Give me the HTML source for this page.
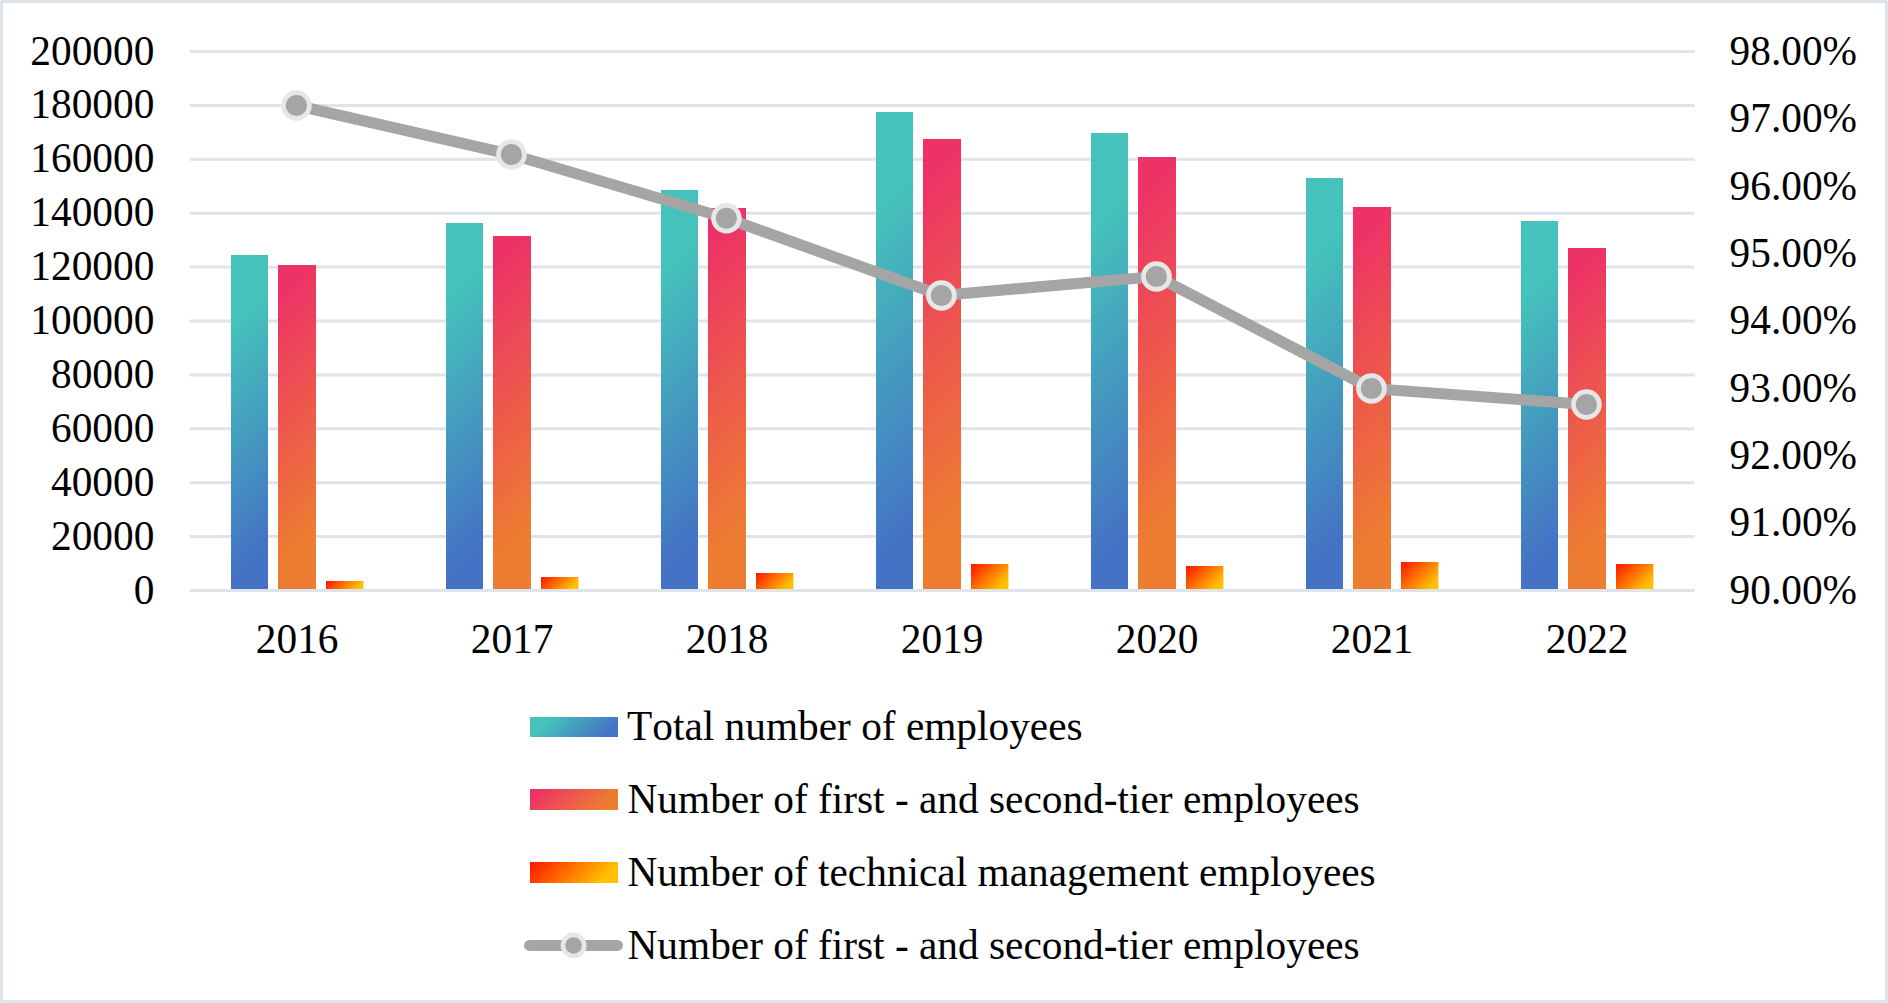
<!DOCTYPE html>
<html lang="en"><head><meta charset="utf-8"><title>Employees chart</title>
<style>html,body{margin:0;padding:0;background:#fff}svg{display:block}text{font-family:"Liberation Serif","Times New Roman",serif;font-size:41.33px;fill:#000;font-kerning:none}</style>
</head><body>
<svg width="1888" height="1003" viewBox="0 0 1888 1003">
<defs>
<linearGradient id="g1"><stop offset="0" stop-color="#45c2bb"/><stop offset="0.2" stop-color="#45c2bb"/><stop offset="0.88" stop-color="#4472c4"/><stop offset="1" stop-color="#4472c4"/></linearGradient>
<linearGradient id="g2"><stop offset="0" stop-color="#ed3267"/><stop offset="0.08" stop-color="#ed3267"/><stop offset="0.84" stop-color="#ed7d31"/><stop offset="1" stop-color="#ed7d31"/></linearGradient>
<linearGradient id="g3"><stop offset="0" stop-color="#ff1400"/><stop offset="0.82" stop-color="#ffc000"/><stop offset="1" stop-color="#ffc000"/></linearGradient>
<linearGradient id="g3_24" gradientUnits="userSpaceOnUse" x1="530" y1="862" x2="584.5" y2="916.5"><stop offset="0" stop-color="#ff1400"/><stop offset="0.82" stop-color="#ffc000"/><stop offset="1" stop-color="#ffc000"/></linearGradient>
<linearGradient id="g2_23" gradientUnits="userSpaceOnUse" x1="530" y1="789" x2="584.5" y2="843.5"><stop offset="0" stop-color="#ed3267"/><stop offset="0.08" stop-color="#ed3267"/><stop offset="0.84" stop-color="#ed7d31"/><stop offset="1" stop-color="#ed7d31"/></linearGradient>
<linearGradient id="g1_22" gradientUnits="userSpaceOnUse" x1="530" y1="717" x2="584" y2="771"><stop offset="0" stop-color="#45c2bb"/><stop offset="0.2" stop-color="#45c2bb"/><stop offset="0.88" stop-color="#4472c4"/><stop offset="1" stop-color="#4472c4"/></linearGradient>
<linearGradient id="g3_21" gradientUnits="userSpaceOnUse" x1="1616" y1="564" x2="1647.95" y2="595.95"><stop offset="0" stop-color="#ff1400"/><stop offset="0.82" stop-color="#ffc000"/><stop offset="1" stop-color="#ffc000"/></linearGradient>
<linearGradient id="g2_20" gradientUnits="userSpaceOnUse" x1="1568" y1="248" x2="1758.25" y2="438.25"><stop offset="0" stop-color="#ed3267"/><stop offset="0.08" stop-color="#ed3267"/><stop offset="0.84" stop-color="#ed7d31"/><stop offset="1" stop-color="#ed7d31"/></linearGradient>
<linearGradient id="g1_19" gradientUnits="userSpaceOnUse" x1="1521" y1="221" x2="1724.25" y2="424.25"><stop offset="0" stop-color="#45c2bb"/><stop offset="0.2" stop-color="#45c2bb"/><stop offset="0.88" stop-color="#4472c4"/><stop offset="1" stop-color="#4472c4"/></linearGradient>
<linearGradient id="g3_18" gradientUnits="userSpaceOnUse" x1="1401" y1="562" x2="1433.95" y2="594.95"><stop offset="0" stop-color="#ff1400"/><stop offset="0.82" stop-color="#ffc000"/><stop offset="1" stop-color="#ffc000"/></linearGradient>
<linearGradient id="g2_17" gradientUnits="userSpaceOnUse" x1="1353" y1="207" x2="1563.75" y2="417.75"><stop offset="0" stop-color="#ed3267"/><stop offset="0.08" stop-color="#ed3267"/><stop offset="0.84" stop-color="#ed7d31"/><stop offset="1" stop-color="#ed7d31"/></linearGradient>
<linearGradient id="g1_16" gradientUnits="userSpaceOnUse" x1="1306" y1="178" x2="1530.75" y2="402.75"><stop offset="0" stop-color="#45c2bb"/><stop offset="0.2" stop-color="#45c2bb"/><stop offset="0.88" stop-color="#4472c4"/><stop offset="1" stop-color="#4472c4"/></linearGradient>
<linearGradient id="g3_15" gradientUnits="userSpaceOnUse" x1="1186" y1="566" x2="1216.95" y2="596.95"><stop offset="0" stop-color="#ff1400"/><stop offset="0.82" stop-color="#ffc000"/><stop offset="1" stop-color="#ffc000"/></linearGradient>
<linearGradient id="g2_14" gradientUnits="userSpaceOnUse" x1="1138" y1="157" x2="1373.75" y2="392.75"><stop offset="0" stop-color="#ed3267"/><stop offset="0.08" stop-color="#ed3267"/><stop offset="0.84" stop-color="#ed7d31"/><stop offset="1" stop-color="#ed7d31"/></linearGradient>
<linearGradient id="g1_13" gradientUnits="userSpaceOnUse" x1="1091" y1="133" x2="1338.25" y2="380.25"><stop offset="0" stop-color="#45c2bb"/><stop offset="0.2" stop-color="#45c2bb"/><stop offset="0.88" stop-color="#4472c4"/><stop offset="1" stop-color="#4472c4"/></linearGradient>
<linearGradient id="g3_12" gradientUnits="userSpaceOnUse" x1="971" y1="564" x2="1002.95" y2="595.95"><stop offset="0" stop-color="#ff1400"/><stop offset="0.82" stop-color="#ffc000"/><stop offset="1" stop-color="#ffc000"/></linearGradient>
<linearGradient id="g2_11" gradientUnits="userSpaceOnUse" x1="923" y1="139" x2="1167.75" y2="383.75"><stop offset="0" stop-color="#ed3267"/><stop offset="0.08" stop-color="#ed3267"/><stop offset="0.84" stop-color="#ed7d31"/><stop offset="1" stop-color="#ed7d31"/></linearGradient>
<linearGradient id="g1_10" gradientUnits="userSpaceOnUse" x1="876" y1="112" x2="1133.75" y2="369.75"><stop offset="0" stop-color="#45c2bb"/><stop offset="0.2" stop-color="#45c2bb"/><stop offset="0.88" stop-color="#4472c4"/><stop offset="1" stop-color="#4472c4"/></linearGradient>
<linearGradient id="g3_9" gradientUnits="userSpaceOnUse" x1="756" y1="573" x2="783.45" y2="600.45"><stop offset="0" stop-color="#ff1400"/><stop offset="0.82" stop-color="#ffc000"/><stop offset="1" stop-color="#ffc000"/></linearGradient>
<linearGradient id="g2_8" gradientUnits="userSpaceOnUse" x1="708" y1="208" x2="918.25" y2="418.25"><stop offset="0" stop-color="#ed3267"/><stop offset="0.08" stop-color="#ed3267"/><stop offset="0.84" stop-color="#ed7d31"/><stop offset="1" stop-color="#ed7d31"/></linearGradient>
<linearGradient id="g1_7" gradientUnits="userSpaceOnUse" x1="661" y1="190" x2="879.75" y2="408.75"><stop offset="0" stop-color="#45c2bb"/><stop offset="0.2" stop-color="#45c2bb"/><stop offset="0.88" stop-color="#4472c4"/><stop offset="1" stop-color="#4472c4"/></linearGradient>
<linearGradient id="g3_6" gradientUnits="userSpaceOnUse" x1="541" y1="577" x2="566.45" y2="602.45"><stop offset="0" stop-color="#ff1400"/><stop offset="0.82" stop-color="#ffc000"/><stop offset="1" stop-color="#ffc000"/></linearGradient>
<linearGradient id="g2_5" gradientUnits="userSpaceOnUse" x1="493" y1="236" x2="689.25" y2="432.25"><stop offset="0" stop-color="#ed3267"/><stop offset="0.08" stop-color="#ed3267"/><stop offset="0.84" stop-color="#ed7d31"/><stop offset="1" stop-color="#ed7d31"/></linearGradient>
<linearGradient id="g1_4" gradientUnits="userSpaceOnUse" x1="446" y1="223" x2="648.25" y2="425.25"><stop offset="0" stop-color="#45c2bb"/><stop offset="0.2" stop-color="#45c2bb"/><stop offset="0.88" stop-color="#4472c4"/><stop offset="1" stop-color="#4472c4"/></linearGradient>
<linearGradient id="g3_3" gradientUnits="userSpaceOnUse" x1="326" y1="581" x2="349.45" y2="604.45"><stop offset="0" stop-color="#ff1400"/><stop offset="0.82" stop-color="#ffc000"/><stop offset="1" stop-color="#ffc000"/></linearGradient>
<linearGradient id="g2_2" gradientUnits="userSpaceOnUse" x1="278" y1="265" x2="459.75" y2="446.75"><stop offset="0" stop-color="#ed3267"/><stop offset="0.08" stop-color="#ed3267"/><stop offset="0.84" stop-color="#ed7d31"/><stop offset="1" stop-color="#ed7d31"/></linearGradient>
<linearGradient id="g1_1" gradientUnits="userSpaceOnUse" x1="231" y1="255" x2="417.25" y2="441.25"><stop offset="0" stop-color="#45c2bb"/><stop offset="0.2" stop-color="#45c2bb"/><stop offset="0.88" stop-color="#4472c4"/><stop offset="1" stop-color="#4472c4"/></linearGradient>
</defs>
<rect x="0" y="0" width="1888" height="1003" fill="#fff"/>
<rect x="1.5" y="1.5" width="1885" height="1000" rx="0.8" fill="none" stroke="#dfe4ec" stroke-width="3"/>
<g stroke="#dfe4ec" stroke-width="3">
<line x1="189.75" y1="536.60" x2="1694.5" y2="536.60"/>
<line x1="189.75" y1="482.70" x2="1694.5" y2="482.70"/>
<line x1="189.75" y1="428.80" x2="1694.5" y2="428.80"/>
<line x1="189.75" y1="374.90" x2="1694.5" y2="374.90"/>
<line x1="189.75" y1="321.00" x2="1694.5" y2="321.00"/>
<line x1="189.75" y1="267.10" x2="1694.5" y2="267.10"/>
<line x1="189.75" y1="213.20" x2="1694.5" y2="213.20"/>
<line x1="189.75" y1="159.30" x2="1694.5" y2="159.30"/>
<line x1="189.75" y1="105.40" x2="1694.5" y2="105.40"/>
<line x1="189.75" y1="51.50" x2="1694.5" y2="51.50"/>
</g>
<g>
<rect x="231" y="255" width="37" height="335.5" fill="url(#g1_1)"/>
<rect x="278" y="265" width="38" height="325.5" fill="url(#g2_2)"/>
<rect x="326" y="581" width="37.4" height="9.5" fill="url(#g3_3)"/>
<rect x="446" y="223" width="37" height="367.5" fill="url(#g1_4)"/>
<rect x="493" y="236" width="38" height="354.5" fill="url(#g2_5)"/>
<rect x="541" y="577" width="37.4" height="13.5" fill="url(#g3_6)"/>
<rect x="661" y="190" width="37" height="400.5" fill="url(#g1_7)"/>
<rect x="708" y="208" width="38" height="382.5" fill="url(#g2_8)"/>
<rect x="756" y="573" width="37.4" height="17.5" fill="url(#g3_9)"/>
<rect x="876" y="112" width="37" height="478.5" fill="url(#g1_10)"/>
<rect x="923" y="139" width="38" height="451.5" fill="url(#g2_11)"/>
<rect x="971" y="564" width="37.4" height="26.5" fill="url(#g3_12)"/>
<rect x="1091" y="133" width="37" height="457.5" fill="url(#g1_13)"/>
<rect x="1138" y="157" width="38" height="433.5" fill="url(#g2_14)"/>
<rect x="1186" y="566" width="37.4" height="24.5" fill="url(#g3_15)"/>
<rect x="1306" y="178" width="37" height="412.5" fill="url(#g1_16)"/>
<rect x="1353" y="207" width="38" height="383.5" fill="url(#g2_17)"/>
<rect x="1401" y="562" width="37.4" height="28.5" fill="url(#g3_18)"/>
<rect x="1521" y="221" width="37" height="369.5" fill="url(#g1_19)"/>
<rect x="1568" y="248" width="38" height="342.5" fill="url(#g2_20)"/>
<rect x="1616" y="564" width="37.4" height="26.5" fill="url(#g3_21)"/>
</g>
<line x1="189.75" y1="590.5" x2="1694.5" y2="590.5" stroke="#dfe4ec" stroke-width="3"/>
<polyline fill="none" stroke="#a5a5a5" stroke-width="11.2" stroke-linejoin="round" stroke-linecap="round" points="296.45,105.5 511.45,154.5 726.45,218.25 941.45,295.5 1156.45,276.5 1371.45,388.5 1586.45,404.5"/>
<circle cx="296.45" cy="105.5" r="12.95" fill="#a5a5a5" stroke="#e7e7e7" stroke-width="4.7"/>
<circle cx="511.45" cy="154.5" r="12.95" fill="#a5a5a5" stroke="#e7e7e7" stroke-width="4.7"/>
<circle cx="726.45" cy="218.25" r="12.95" fill="#a5a5a5" stroke="#e7e7e7" stroke-width="4.7"/>
<circle cx="941.45" cy="295.5" r="12.95" fill="#a5a5a5" stroke="#e7e7e7" stroke-width="4.7"/>
<circle cx="1156.45" cy="276.5" r="12.95" fill="#a5a5a5" stroke="#e7e7e7" stroke-width="4.7"/>
<circle cx="1371.45" cy="388.5" r="12.95" fill="#a5a5a5" stroke="#e7e7e7" stroke-width="4.7"/>
<circle cx="1586.45" cy="404.5" r="12.95" fill="#a5a5a5" stroke="#e7e7e7" stroke-width="4.7"/>
<g text-anchor="end">
<text x="154.3" y="603.50">0</text>
<text x="154.3" y="549.60">20000</text>
<text x="154.3" y="495.70">40000</text>
<text x="154.3" y="441.80">60000</text>
<text x="154.3" y="387.90">80000</text>
<text x="154.3" y="334.00">100000</text>
<text x="154.3" y="280.10">120000</text>
<text x="154.3" y="226.20">140000</text>
<text x="154.3" y="172.30">160000</text>
<text x="154.3" y="118.40">180000</text>
<text x="154.3" y="64.50">200000</text>
</g>
<g text-anchor="start">
<text x="1729.6" y="603.80">90.00%</text>
<text x="1729.6" y="536.42">91.00%</text>
<text x="1729.6" y="469.05">92.00%</text>
<text x="1729.6" y="401.68">93.00%</text>
<text x="1729.6" y="334.30">94.00%</text>
<text x="1729.6" y="266.93">95.00%</text>
<text x="1729.6" y="199.55">96.00%</text>
<text x="1729.6" y="132.18">97.00%</text>
<text x="1729.6" y="64.80">98.00%</text>
</g>
<g text-anchor="middle">
<text x="297.2" y="652.7">2016</text>
<text x="512.2" y="652.7">2017</text>
<text x="727.2" y="652.7">2018</text>
<text x="942.2" y="652.7">2019</text>
<text x="1157.2" y="652.7">2020</text>
<text x="1372.2" y="652.7">2021</text>
<text x="1587.2" y="652.7">2022</text>
</g>
<rect x="530" y="717" width="88" height="20" fill="url(#g1_22)"/>
<rect x="530" y="789" width="88" height="21" fill="url(#g2_23)"/>
<rect x="530" y="862" width="88" height="21" fill="url(#g3_24)"/>
<line x1="529.5" y1="945.4" x2="617.5" y2="945.4" stroke="#a5a5a5" stroke-width="11" stroke-linecap="round"/>
<circle cx="573.6" cy="945.4" r="10.6" fill="#a5a5a5" stroke="#e7e7e7" stroke-width="4.7"/>
<text x="627" y="740">Total number of employees</text>
<text x="627.5" y="813">Number of first - and second-tier employees</text>
<text x="627.5" y="886">Number of technical management employees</text>
<text x="627.5" y="958.7">Number of first - and second-tier employees</text>
</svg>
</body></html>
